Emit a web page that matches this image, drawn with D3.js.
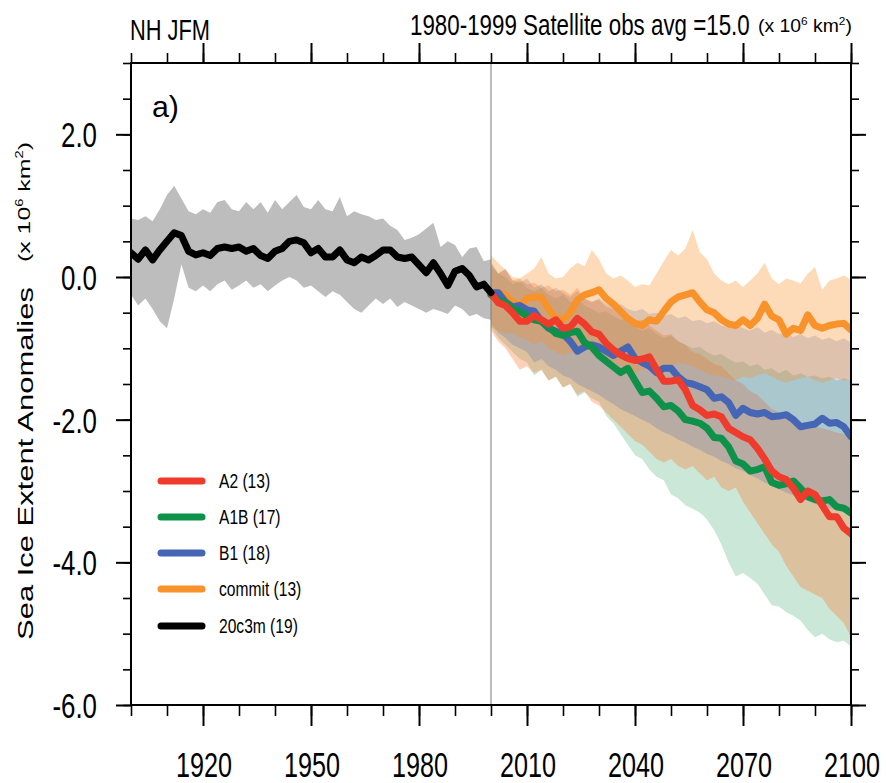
<!DOCTYPE html>
<html><head><meta charset="utf-8">
<script src="https://cdn.jsdelivr.net/npm/d3@7"></script>
<style>body{margin:0;background:#fff} svg{display:block} text{font-family:"Liberation Sans",Arial,Helvetica,sans-serif;fill:#000}</style>
</head><body><svg id="c" width="886" height="783"></svg>
<script>
// ---------------- DATA ----------------
const histYears = d3.range(1900, 2001, 2);
const futYears = d3.range(2000, 2101, 2);

const hist20c3m = [0.34,0.25,0.38,0.24,0.38,0.50,0.62,0.58,0.36,0.31,0.34,0.30,0.40,0.42,0.40,0.42,0.36,0.40,0.30,0.26,0.36,0.40,0.50,0.52,0.48,0.34,0.40,0.28,0.28,0.38,0.24,0.20,0.28,0.24,0.30,0.38,0.38,0.28,0.26,0.28,0.17,0.06,0.20,0.05,-0.12,0.08,0.12,0.02,-0.14,-0.10,-0.22];
const histHi = [0.82,0.80,0.85,0.78,0.95,1.15,1.28,1.10,0.92,0.88,0.95,0.90,1.05,1.08,0.95,0.92,1.05,0.95,1.05,0.90,1.08,0.95,1.05,1.15,0.98,0.95,1.08,0.95,0.92,1.12,0.85,0.92,0.88,0.85,0.80,0.82,0.72,0.66,0.52,0.55,0.60,0.68,0.76,0.42,0.50,0.45,0.28,0.40,0.42,0.22,0.25];
const histLo = [-0.25,-0.40,-0.30,-0.45,-0.62,-0.72,-0.30,0.18,-0.15,-0.20,-0.12,-0.20,-0.10,-0.05,-0.18,-0.12,-0.05,-0.15,-0.10,-0.20,-0.12,-0.05,0.00,-0.05,-0.15,-0.12,-0.20,-0.28,-0.20,-0.25,-0.35,-0.45,-0.50,-0.40,-0.30,-0.38,-0.30,-0.42,-0.35,-0.40,-0.45,-0.50,-0.45,-0.48,-0.52,-0.40,-0.45,-0.55,-0.52,-0.58,-0.60];

const a2Mean = [-0.22,-0.36,-0.40,-0.50,-0.62,-0.62,-0.54,-0.60,-0.66,-0.60,-0.72,-0.70,-0.58,-0.66,-0.77,-0.80,-0.93,-1.02,-1.09,-1.14,-1.17,-1.15,-1.12,-1.30,-1.46,-1.46,-1.44,-1.58,-1.80,-1.86,-1.94,-1.92,-1.96,-2.12,-2.18,-2.24,-2.28,-2.40,-2.55,-2.72,-2.80,-2.84,-2.96,-3.12,-3.00,-3.05,-3.20,-3.36,-3.36,-3.52,-3.60];
const a1bMean = [-0.25,-0.32,-0.36,-0.44,-0.48,-0.55,-0.60,-0.62,-0.70,-0.79,-0.82,-0.78,-0.76,-0.92,-0.98,-1.10,-1.18,-1.26,-1.34,-1.28,-1.45,-1.62,-1.60,-1.70,-1.82,-1.80,-1.88,-2.00,-2.02,-2.05,-2.12,-2.25,-2.26,-2.38,-2.58,-2.62,-2.72,-2.70,-2.66,-2.88,-2.92,-2.90,-2.86,-2.96,-3.08,-3.12,-3.14,-3.12,-3.22,-3.24,-3.31];
const b1Mean = [-0.22,-0.22,-0.35,-0.42,-0.40,-0.46,-0.48,-0.62,-0.72,-0.76,-0.80,-0.90,-1.04,-0.98,-0.95,-0.98,-1.04,-1.10,-1.04,-0.98,-1.14,-1.20,-1.25,-1.34,-1.28,-1.28,-1.40,-1.48,-1.50,-1.54,-1.58,-1.70,-1.68,-1.76,-1.94,-1.84,-1.90,-1.92,-1.90,-1.96,-1.95,-1.93,-2.00,-2.10,-2.08,-2.06,-1.98,-2.05,-2.04,-2.10,-2.24];
const commitMean = [-0.25,-0.22,-0.25,-0.35,-0.40,-0.30,-0.28,-0.28,-0.45,-0.58,-0.60,-0.50,-0.32,-0.25,-0.22,-0.18,-0.30,-0.38,-0.48,-0.58,-0.65,-0.68,-0.60,-0.62,-0.48,-0.35,-0.28,-0.25,-0.22,-0.35,-0.46,-0.50,-0.60,-0.66,-0.68,-0.60,-0.68,-0.58,-0.38,-0.55,-0.60,-0.80,-0.72,-0.75,-0.53,-0.68,-0.72,-0.68,-0.66,-0.65,-0.74];

const a2Hi = [0.20,0.05,0.10,-0.05,-0.02,-0.10,-0.08,-0.15,-0.12,-0.20,-0.18,-0.25,-0.15,-0.30,-0.35,-0.32,-0.42,-0.45,-0.52,-0.55,-0.62,-0.60,-0.68,-0.75,-0.82,-0.80,-0.90,-0.95,-1.05,-1.08,-1.15,-1.22,-1.25,-1.35,-1.45,-1.50,-1.60,-1.65,-1.75,-1.85,-1.90,-1.95,-2.00,-2.05,-2.05,-2.10,-2.12,-2.15,-2.18,-2.20,-2.22];
const a2Lo = [-0.75,-0.90,-1.00,-1.15,-1.30,-1.25,-1.35,-1.30,-1.45,-1.40,-1.55,-1.50,-1.65,-1.60,-1.75,-1.80,-1.90,-2.00,-2.10,-2.20,-2.30,-2.35,-2.45,-2.55,-2.60,-2.55,-2.65,-2.70,-2.65,-2.75,-2.85,-2.80,-2.95,-3.00,-2.95,-3.15,-3.30,-3.45,-3.60,-3.75,-3.85,-4.05,-4.20,-4.35,-4.40,-4.45,-4.50,-4.65,-4.75,-4.85,-5.05];
const a1bHi = [0.15,0.05,0.00,-0.10,-0.05,-0.15,-0.20,-0.15,-0.25,-0.30,-0.25,-0.35,-0.30,-0.40,-0.45,-0.50,-0.48,-0.55,-0.60,-0.58,-0.70,-0.75,-0.72,-0.80,-0.85,-0.82,-0.90,-0.95,-1.00,-0.98,-1.05,-1.10,-1.08,-1.15,-1.20,-1.18,-1.25,-1.22,-1.30,-1.28,-1.35,-1.30,-1.38,-1.35,-1.40,-1.38,-1.42,-1.40,-1.45,-1.42,-1.45];
const a1bLo = [-0.70,-0.85,-0.95,-1.05,-1.15,-1.20,-1.38,-1.30,-1.45,-1.40,-1.55,-1.50,-1.68,-1.62,-1.70,-1.75,-1.95,-2.05,-2.20,-2.35,-2.50,-2.55,-2.70,-2.80,-2.85,-3.05,-3.10,-3.20,-3.25,-3.30,-3.40,-3.55,-3.75,-4.00,-4.20,-4.15,-4.22,-4.30,-4.45,-4.60,-4.62,-4.70,-4.75,-4.82,-4.95,-5.05,-5.00,-5.08,-5.12,-5.10,-5.18];
const b1Hi = [0.20,0.05,0.12,-0.05,-0.08,-0.02,-0.15,-0.10,-0.20,-0.15,-0.22,-0.28,-0.20,-0.30,-0.35,-0.30,-0.38,-0.42,-0.38,-0.45,-0.48,-0.45,-0.52,-0.50,-0.55,-0.52,-0.58,-0.55,-0.62,-0.60,-0.65,-0.62,-0.68,-0.70,-0.66,-0.72,-0.75,-0.70,-0.78,-0.74,-0.80,-0.78,-0.84,-0.80,-0.86,-0.82,-0.88,-0.85,-0.90,-0.86,-0.92];
const b1Lo = [-0.65,-0.78,-0.85,-0.95,-1.00,-1.05,-1.20,-1.15,-1.25,-1.30,-1.38,-1.42,-1.50,-1.55,-1.60,-1.65,-1.72,-1.78,-1.85,-1.90,-1.95,-2.00,-2.05,-2.12,-2.18,-2.22,-2.28,-2.32,-2.38,-2.42,-2.48,-2.52,-2.58,-2.62,-2.68,-2.72,-2.78,-2.82,-2.88,-2.92,-2.98,-3.02,-3.06,-3.10,-3.14,-3.18,-3.20,-3.24,-3.27,-3.30,-3.32];
const commitHi = [0.30,0.20,0.10,0.00,-0.02,0.05,0.12,0.28,0.05,-0.02,0.00,0.12,0.20,0.15,0.38,0.25,0.05,-0.02,0.02,-0.05,-0.14,-0.10,-0.12,0.05,0.22,0.38,0.30,0.40,0.66,0.35,0.25,0.05,-0.05,-0.10,-0.05,-0.14,-0.05,0.05,0.20,-0.02,-0.10,-0.02,-0.05,-0.09,0.05,0.14,-0.18,-0.05,-0.02,0.02,-0.04];
const commitLo = [-0.70,-0.75,-0.80,-0.78,-0.85,-0.88,-0.95,-0.90,-1.00,-1.05,-1.10,-1.05,-1.10,-1.00,-1.05,-1.10,-1.15,-1.20,-1.25,-1.30,-1.35,-1.30,-1.28,-1.35,-1.30,-1.25,-1.20,-1.22,-1.25,-1.30,-1.35,-1.38,-1.40,-1.42,-1.45,-1.40,-1.42,-1.38,-1.35,-1.40,-1.45,-1.48,-1.45,-1.42,-1.40,-1.45,-1.48,-1.45,-1.42,-1.45,-1.45];

const legendNames = ["A2 (13)","A1B (17)","B1 (18)","commit (13)","20c3m (19)"];
const xMajorTicks = [1920,1950,1980,2010,2040,2070,2100];
const xMinorTicks = d3.range(1900, 2101, 10);
const yMajorTicks = [2,0,-2,-4,-6];
const yMinorTicks = d3.range(-6, 3.01, 0.5);
const yTickLabels = ["2.0","0.0","-2.0","-4.0","-6.0"];

// ---------------- STYLE ----------------
const C = {a2:"#ef3b2c", a1b:"#0e9149", b1:"#4565b5", commit:"#f8922b", hist:"#000000"};
const F = {a2:"#ff7a35", a1b:"#0e9149", b1:"#4565b5", commit:"#f8922b"};

const svg = d3.select("#c");
const x = d3.scaleLinear().domain([1900, 2100]).range([131, 851]);
const y = d3.scaleLinear().domain([-6, 3]).range([705, 63]);

function series(years, m) { return years.map((yr,i)=>({yr, v:m[i]})); }
function band(years, hi, lo) { return years.map((yr,i)=>({yr, hi:hi[i], lo:lo[i]})); }
const area = d3.area().x(d=>x(d.yr)).y0(d=>y(d.lo)).y1(d=>y(d.hi));
const line = d3.line().x(d=>x(d.yr)).y(d=>y(d.v));

const plot = svg.append("g");
svg.append("clipPath").attr("id", "clip").append("rect")
  .attr("x", x(1900)).attr("y", y(3)).attr("width", x(2100)-x(1900)).attr("height", y(-6)-y(3));
plot.attr("clip-path", "url(#clip)");

// bands
plot.append("path").datum(band(histYears, histHi, histLo)).attr("d", area).attr("fill", "#bdbdbd");
plot.append("path").datum(band(futYears, a1bHi, a1bLo)).attr("d", area).attr("fill", F.a1b).attr("fill-opacity", 0.22);
plot.append("path").datum(band(futYears, a2Hi, a2Lo)).attr("d", area).attr("fill", F.a2).attr("fill-opacity", 0.35);
plot.append("path").datum(band(futYears, b1Hi, b1Lo)).attr("d", area).attr("fill", F.b1).attr("fill-opacity", 0.24);
plot.append("path").datum(band(futYears, commitHi, commitLo)).attr("d", area).attr("fill", F.commit).attr("fill-opacity", 0.33);

// 2000 divider
plot.append("line").attr("x1", x(2000)).attr("x2", x(2000)).attr("y1", y(3)).attr("y2", y(-6))
  .attr("stroke", "#7a7a7a").attr("stroke-width", 1);

// lines
function drawLine(vals, years, col) {
  plot.append("path").datum(series(years, vals)).attr("d", line).attr("fill", "none")
    .attr("stroke", col).attr("stroke-width", 7).attr("stroke-linejoin", "round").attr("stroke-linecap", "round");
}
drawLine(commitMean, futYears, C.commit);
drawLine(b1Mean, futYears, C.b1);
drawLine(a1bMean, futYears, C.a1b);
drawLine(a2Mean, futYears, C.a2);
drawLine(hist20c3m, histYears, C.hist);

// frame
svg.append("rect").attr("x", x(1900)).attr("y", y(3)).attr("width", x(2100)-x(1900)).attr("height", y(-6)-y(3))
  .attr("fill", "none").attr("stroke", "#000").attr("stroke-width", 2);

// axes (ticks outward)
function styleAxis(g, w) { g.select(".domain").remove(); g.selectAll("line").attr("stroke", "#000").attr("stroke-width", w); g.selectAll("text").remove(); }
svg.append("g").attr("transform", `translate(0,${y(-6)})`).call(d3.axisBottom(x).tickValues(xMinorTicks).tickSize(11)).call(g=>styleAxis(g,1.6));
svg.append("g").attr("transform", `translate(0,${y(-6)})`).call(d3.axisBottom(x).tickValues(xMajorTicks).tickSize(21)).call(g=>styleAxis(g,2));
svg.append("g").attr("transform", `translate(0,${y(3)})`).call(d3.axisTop(x).tickValues(xMinorTicks).tickSize(10)).call(g=>styleAxis(g,1.6));
svg.append("g").attr("transform", `translate(0,${y(3)})`).call(d3.axisTop(x).tickValues(xMajorTicks).tickSize(20)).call(g=>styleAxis(g,2));
svg.append("g").attr("transform", `translate(${x(1900)},0)`).call(d3.axisLeft(y).tickValues(yMinorTicks).tickSize(8)).call(g=>styleAxis(g,1.6));
svg.append("g").attr("transform", `translate(${x(1900)},0)`).call(d3.axisLeft(y).tickValues(yMajorTicks).tickSize(15)).call(g=>styleAxis(g,2));
svg.append("g").attr("transform", `translate(${x(2100)},0)`).call(d3.axisRight(y).tickValues(yMinorTicks).tickSize(8)).call(g=>styleAxis(g,1.6));
svg.append("g").attr("transform", `translate(${x(2100)},0)`).call(d3.axisRight(y).tickValues(yMajorTicks).tickSize(15)).call(g=>styleAxis(g,2));

// text helper: font size sets height, horizontal scale sets width
function label(parent, parts, px, py, fs, opts) {
  opts = opts || {};
  const t = parent.append("text").attr("font-size", fs).attr("text-anchor", opts.anchor || "start");
  parts.forEach(p => {
    if (typeof p === "string") t.append("tspan").text(p);
    else t.append("tspan").text(p.t).attr("font-size", p.fs).attr("dy", p.dy);
  });
  let sx = opts.sx || 1;
  if (opts.width) { const w = t.node().getBBox().width; sx = opts.width / w; }
  const rot = opts.rotate ? ` rotate(${opts.rotate})` : "";
  t.attr("transform", `translate(${px},${py})${rot} scale(${sx},1)`);
  return t;
}

// tick labels
yMajorTicks.forEach((v,i) => label(svg, [yTickLabels[i]], 97, y(v)+13, 35, {anchor:"end", sx:0.74}));
xMajorTicks.forEach(v => label(svg, [String(v)], x(v)+1, 777, 35, {anchor:"middle", sx:0.72}));

// titles
label(svg, ["NH JFM"], 130, 40, 29, {width:80});
label(svg, ["1980-1999 Satellite obs avg =15.0"], 410, 35, 29, {width:340});
label(svg, ["(x 10", {t:"6", fs:11, dy:-7}, {t:" km", fs:18, dy:7}, {t:"2", fs:11, dy:-7}, {t:")", fs:18, dy:7}], 758, 32, 18, {width:94});
label(svg, ["a)"], 152, 117, 30, {width:27});

// y-axis title (rotated)
label(svg, ["Sea Ice Extent Anomalies"], 33, 640, 22, {rotate:-90, width:353});
label(svg, ["(x 10", {t:"6", fs:10, dy:-7}, {t:" km", fs:17, dy:7}, {t:"2", fs:10, dy:-7}, {t:")", fs:17, dy:7}], 30, 262, 17, {rotate:-90, width:120});

// legend
const legCols = [C.a2, C.a1b, C.b1, C.commit, C.hist];
const legY = [481, 517, 553, 589, 626];
legendNames.forEach((n,i) => {
  svg.append("line").attr("x1", 161).attr("x2", 202).attr("y1", legY[i]).attr("y2", legY[i])
    .attr("stroke", legCols[i]).attr("stroke-width", 7).attr("stroke-linecap", "round");
  label(svg, [n], 219, legY[i]+7, 19.5, {sx:0.8});
});
</script></body></html>
